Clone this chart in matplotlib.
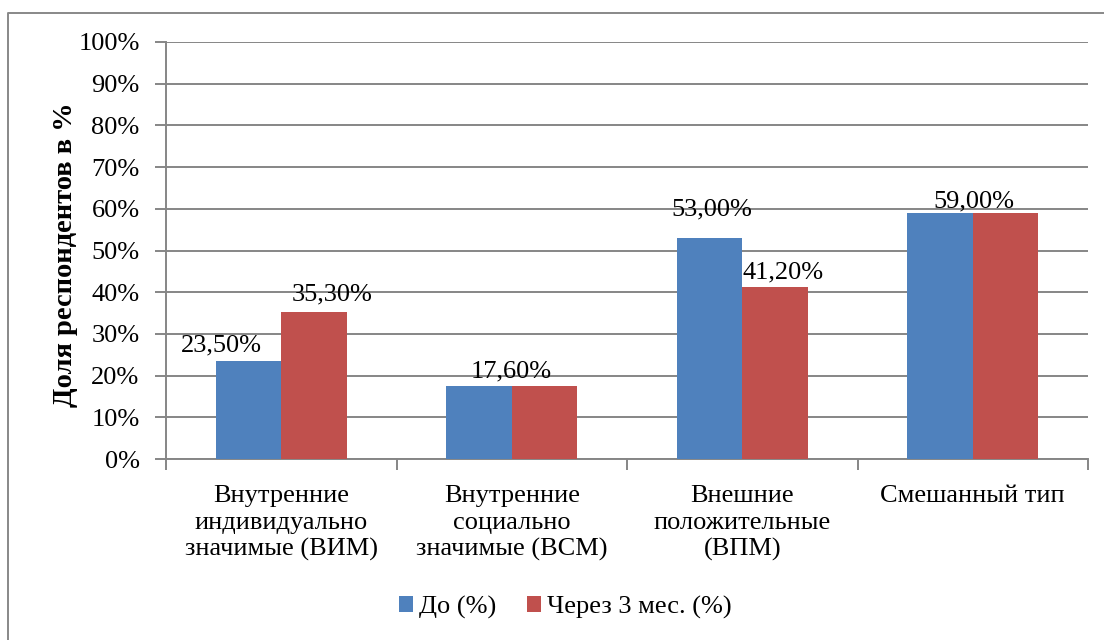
import matplotlib.pyplot as plt
import numpy as np
from matplotlib.lines import Line2D

categories = ['Внутренние\nиндивидуально\nзначимые (ВИМ)',
              'Внутренние\nсоциально\nзначимые (ВСМ)',
              'Внешние\nположительные\n(ВПМ)',
              'Смешанный тип']
before = [23.5, 17.6, 53.0, 59.0]
after = [35.3, 17.6, 41.2, 59.0]
series_names = ['До (%)', 'Через 3 мес. (%)']

plt.rcParams['font.family'] = ['Liberation Serif', 'DejaVu Serif']
fs = 19
grid_c = '#868686'

fig = plt.figure(figsize=(11.04, 6.4), dpi=100)
ax = fig.add_axes([166/1104, 181/640, (1088-166)/1104, (459-42)/640])

x = np.arange(len(categories))
w = 0.284
ax.bar(x - w/2, np.array(before)/100, w, color='#4F81BD', label=series_names[0], zorder=3)
ax.bar(x + w/2, np.array(after)/100, w, color='#C0504D', label=series_names[1], zorder=3)

def fmt(v):
    return ('%.2f%%' % v).replace('.', ',')

# label offsets in pixels (dx, dy) as placed in the source chart
offs1 = [(-27, 16), None, (2, 29), (34, 12)]
offs2 = [(18, 17), (-33, 14), (8, 15), None]
for i in range(len(categories)):
    for vals, xs, offs in ((before, x - w/2, offs1), (after, x + w/2, offs2)):
        if offs[i] is None:
            continue
        ax.annotate(fmt(vals[i]), (xs[i], vals[i]/100), xytext=offs[i],
                    textcoords='offset pixels', ha='center', va='center',
                    fontsize=fs, zorder=4)

ax.set_xlim(-0.5, len(categories) - 0.5)
ax.set_ylim(0, 1)
ticks = np.arange(0, 1.01, 0.1)
ax.set_yticks(ticks)
ax.set_yticklabels(['%d%%' % round(t*100) for t in ticks], fontsize=fs)
ax.yaxis.grid(True, color=grid_c, lw=1.4, zorder=0)
ax.set_xticks(x)
ax.set_xticklabels(categories, fontsize=fs, linespacing=1.25)
ax.set_xticks(np.arange(-0.5, len(categories), 1), minor=True)
ax.tick_params(axis='x', which='major', length=0, pad=19)
ax.tick_params(axis='x', which='minor', length=8, color=grid_c, width=1.4)
ax.tick_params(axis='y', length=8, color=grid_c, width=1.4, pad=11)
for s in ('top', 'right'):
    ax.spines[s].set_visible(False)
for s in ('left', 'bottom'):
    ax.spines[s].set_color(grid_c)
    ax.spines[s].set_linewidth(1.4)

fig.text(66/1104, 1 - 255/640, 'Доля респондентов в %', rotation=90, ha='center',
         va='center', fontsize=20.5, fontweight='bold')

ax.legend(loc='center', bbox_to_anchor=(565/1104, 1 - 607/640),
          bbox_transform=fig.transFigure, ncol=2, frameon=False, fontsize=fs,
          handlelength=0.55, handleheight=0.55, handletextpad=0.2, columnspacing=1.17)

fig.add_artist(Line2D([8/1104, 8/1104, 1.0], [0, 1 - 13/640, 1 - 13/640],
                      color='#888888', lw=1.4, transform=fig.transFigure))

fig.savefig('out.png', dpi=100)
